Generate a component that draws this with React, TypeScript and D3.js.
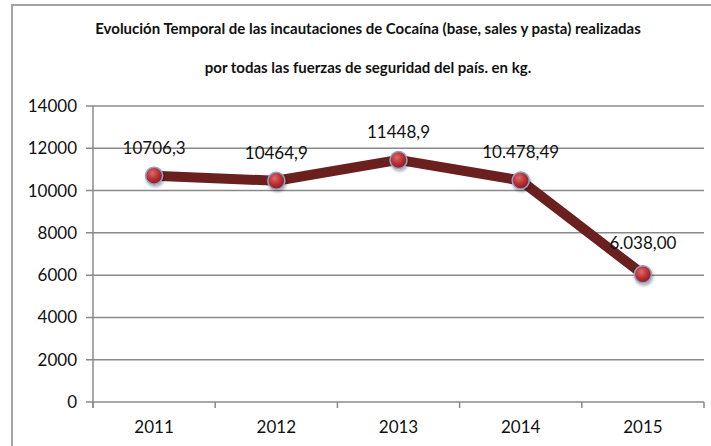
import React from 'react';
import * as d3 from 'd3';

const years = ['2011', '2012', '2013', '2014', '2015'];
const seizures = [10706.3, 10464.9, 11448.9, 10478.49, 6038.0];
const pointLabels = ['10706,3', '10464,9', '11448,9', '10.478,49', '6.038,00'];
const yTicks = [0, 2000, 4000, 6000, 8000, 10000, 12000, 14000];
const titleLines = [
  'Evolución Temporal de las incautaciones de Cocaína (base, sales y pasta) realizadas',
  'por todas las fuerzas de seguridad del país. en kg.',
];

const W = 711;
const H = 446;
const font = 'Lato, "Open Sans", sans-serif';

export default function App() {
  const left = 93;
  const right = 704;
  const top = 106;
  const bottom = 402;

  const x = d3.scaleBand().domain(years).range([left, right]);
  const y = d3.scaleLinear().domain([0, 14000]).range([bottom, top]);

  const line = d3
    .line<number>()
    .x((d, i) => x(years[i])! + x.bandwidth() / 2)
    .y((d) => y(d));

  const bounds = [...years.map((yr) => x(yr)!), right];

  return (
    <div style={{ position: 'absolute', left: 0, top: 0 }}>
      <svg width={W} height={H} style={{ display: 'block', background: '#fff' }}>
        <defs>
          <radialGradient id="ball" cx="40%" cy="35%" r="65%">
            <stop offset="0%" stopColor="#e06a6a" />
            <stop offset="55%" stopColor="#b93232" />
            <stop offset="100%" stopColor="#8e1c1c" />
          </radialGradient>
          <filter id="shadow" x="-50%" y="-50%" width="200%" height="200%">
            <feDropShadow dx="1" dy="2" stdDeviation="1.5" floodColor="#000" floodOpacity="0.35" />
          </filter>
        </defs>

        <rect x={12} y={5} width={W} height={H} fill="none" stroke="#a3a3a3" strokeWidth={2} />

        {titleLines.map((t, i) => (
          <text
            key={i}
            x={368}
            y={34 + i * 39}
            textAnchor="middle"
            fontFamily={font}
            fontWeight="bold"
            fontSize={15}
            fill="#111"
          >
            {t}
          </text>
        ))}

        {yTicks.map((t) => (
          <g key={t}>
            <line x1={left - 7} x2={right} y1={y(t)} y2={y(t)} stroke="#8a8a8a" strokeWidth={1.5} />
            <text
              x={77}
              y={y(t)}
              dy="0.35em"
              textAnchor="end"
              fontFamily={font}
              fontSize={17}
              fill="#111"
            >
              {t}
            </text>
          </g>
        ))}

        <line x1={left} x2={left} y1={top} y2={bottom + 6} stroke="#8a8a8a" strokeWidth={1.5} />
        {bounds.map((b, i) => (
          <line key={i} x1={b} x2={b} y1={bottom} y2={bottom + 6} stroke="#8a8a8a" strokeWidth={1.5} />
        ))}
        {years.map((yr) => (
          <text
            key={yr}
            x={x(yr)! + x.bandwidth() / 2}
            y={433}
            textAnchor="middle"
            fontFamily={font}
            fontSize={17}
            fill="#111"
          >
            {yr}
          </text>
        ))}

        <path
          d={line(seizures) || ''}
          fill="none"
          stroke="#6b2020"
          strokeWidth={10}
          strokeLinejoin="round"
        />

        {seizures.map((v, i) => (
          <circle
            key={i}
            cx={x(years[i])! + x.bandwidth() / 2}
            cy={y(v)}
            r={8.5}
            fill="url(#ball)"
            stroke="#8fa2cc"
            strokeWidth={1.5}
            filter="url(#shadow)"
          />
        ))}

        {seizures.map((v, i) => (
          <text
            key={i}
            x={x(years[i])! + x.bandwidth() / 2}
            y={y(v) - (i === 4 ? 31 : 28)}
            dy="0.35em"
            textAnchor="middle"
            fontFamily={font}
            fontSize={17}
            fill="#111"
          >
            {pointLabels[i]}
          </text>
        ))}
      </svg>
    </div>
  );
}
